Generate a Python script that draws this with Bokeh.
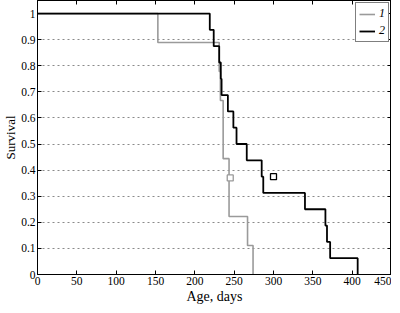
from bokeh.plotting import figure
from bokeh.models import (Range1d, FixedTicker, LinearAxis, Legend, LegendItem)
from bokeh.embed import file_html
from bokeh.resources import INLINE

# ---- data ----
days_1 = [0, 153, 231, 232.5, 236, 243.5, 267, 274]
surv_1 = [1.0, 0.889, 0.778, 0.667, 0.444, 0.222, 0.111, 0.0]

days_2 = [0, 219, 224, 231, 233, 234, 242, 249, 253, 266, 285, 287, 340, 366, 368, 372, 407]
surv_2 = [1.0, 0.9375, 0.875, 0.8125, 0.75, 0.6875, 0.625, 0.5625, 0.5, 0.4375,
          0.375, 0.3125, 0.25, 0.1875, 0.125, 0.0625, 0.0]

mark_1_x = [245]
mark_1_y = [0.37]
mark_2_x = [300]
mark_2_y = [0.375]

x_ticks = [0, 50, 100, 150, 200, 250, 300, 350, 400, 450]
y_ticks = [0, 0.1, 0.2, 0.3, 0.4, 0.5, 0.6, 0.7, 0.8, 0.9, 1]
y_tick_labels = ["0", "0.1", "0.2", "0.3", "0.4", "0.5", "0.6", "0.7", "0.8", "0.9", "1"]
series_names = ["1", "2"]

FONT = "Liberation Serif"
GRAY = "#9a9a9a"

p = figure(frame_width=354, frame_height=274, output_backend="svg", toolbar_location=None,
           x_range=Range1d(0, 450), y_range=Range1d(0, 1.05),
           x_axis_label="Age, days", y_axis_label="Survival",
           min_border_left=0, min_border_right=0, min_border_top=0, min_border_bottom=0)

p.outline_line_color = "black"
p.outline_line_width = 1
p.background_fill_color = "white"
p.border_fill_color = "white"

p.xgrid.visible = False
p.ygrid.ticker = FixedTicker(ticks=y_ticks[1:-1])
p.ygrid.grid_line_color = "#8a8a8a"
p.ygrid.grid_line_dash = "2 3"
p.ygrid.grid_line_width = 1

for ax in (p.xaxis[0], p.yaxis[0]):
    ax.major_tick_in = 4
    ax.major_tick_out = 0
    ax.minor_tick_line_color = None
    ax.axis_line_color = "black"
    ax.major_tick_line_color = "black"
    ax.major_label_text_font = FONT
    ax.major_label_text_font_size = "11.5px"
    ax.major_label_text_color = "black"
    ax.axis_label_text_font = FONT
    ax.axis_label_text_font_style = "normal"
    ax.axis_label_text_color = "black"

p.xaxis[0].ticker = FixedTicker(ticks=x_ticks)
p.yaxis[0].ticker = FixedTicker(ticks=y_ticks)
p.yaxis[0].major_label_overrides = {t: l for t, l in zip(y_ticks, y_tick_labels)}
p.xaxis[0].axis_label_text_font_size = "14px"
p.yaxis[0].axis_label_text_font_size = "13px"
p.xaxis[0].major_label_standoff = 2
p.yaxis[0].major_label_standoff = 2
p.xaxis[0].axis_label_standoff = 1
p.yaxis[0].axis_label_standoff = 0

# mirrored tick axes (top and right), with empty labels
top = LinearAxis(ticker=FixedTicker(ticks=x_ticks), major_tick_in=4, major_tick_out=0,
                 minor_tick_line_color=None, major_label_text_font_size="0px",
                 major_label_standoff=0, axis_line_color="black",
                 major_label_overrides={t: "" for t in x_ticks})
right = LinearAxis(ticker=FixedTicker(ticks=y_ticks), major_tick_in=4, major_tick_out=0,
                   minor_tick_line_color=None, major_label_text_font_size="0px",
                   major_label_standoff=0, axis_line_color="black",
                   major_label_overrides={t: "" for t in y_ticks})
p.add_layout(top, "above")
p.add_layout(right, "right")

r1 = p.step(days_1, surv_1, mode="after", line_color=GRAY, line_width=1.6)
r2 = p.step(days_2, surv_2, mode="after", line_color="black", line_width=1.8)

p.scatter(mark_1_x, mark_1_y, marker="square", size=6, fill_color="white",
          line_color=GRAY, line_width=1.3)
p.scatter(mark_2_x, mark_2_y, marker="square", size=6, fill_color="white",
          line_color="black", line_width=1.3)

legend = Legend(items=[LegendItem(label=series_names[0], renderers=[r1]),
                       LegendItem(label=series_names[1], renderers=[r2])],
                location="top_right")
legend.label_text_font = FONT
legend.label_text_font_style = "italic"
legend.label_text_font_size = "12px"
legend.label_text_color = "black"
legend.glyph_width = 16
legend.glyph_height = 12
legend.label_standoff = 4
legend.label_width = 6
legend.label_height = 12
legend.padding = 3
legend.spacing = 2
legend.margin = 2
legend.border_line_color = "black"
legend.border_line_width = 1
legend.background_fill_color = "white"
legend.background_fill_alpha = 1
p.add_layout(legend)

open("out.html", "w").write(file_html(p, INLINE))
